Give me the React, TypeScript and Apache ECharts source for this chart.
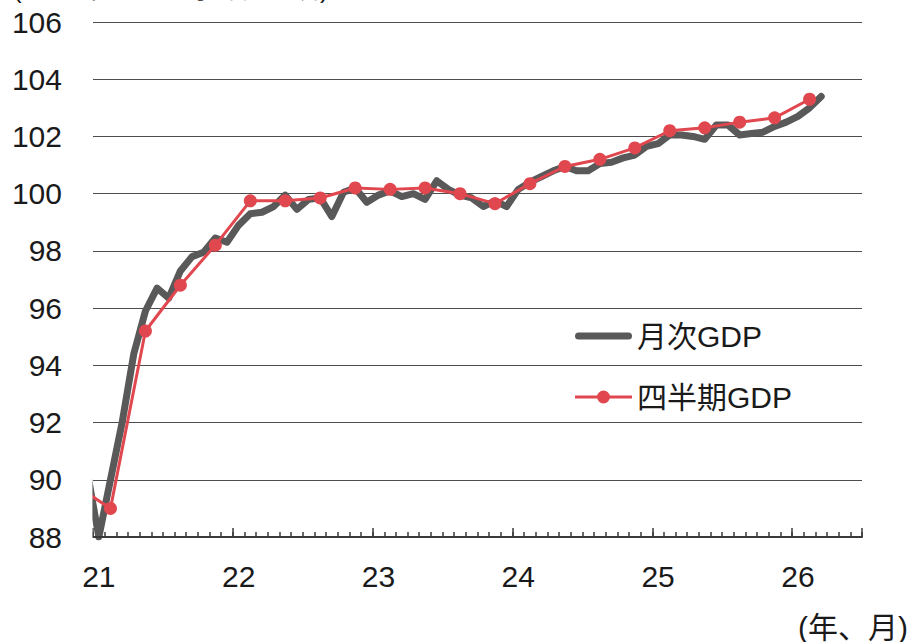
import React, { useEffect, useRef } from "react";
import * as echarts from "echarts";

// ---- data ----
const START_YEAR = 2021;
const AXIS_MONTHS = 66; // Jan 2021 .. Jun 2026
const yearTickLabels = ["21", "22", "23", "24", "25", "26"];
const yAxisMin = 88;
const yAxisMax = 106;
const yAxisStep = 2;

// Monthly GDP, Dec 2020 .. Mar 2026 (offset -1 = Dec 2020)
const monthlyOffset = -1;
const monthlyGDP = [
  90.3,
  88.0, 90.0, 92.0, 94.4, 95.9, 96.7, 96.35, 97.3, 97.8, 97.95, 98.45, 98.3,
  98.9, 99.3, 99.35, 99.55, 99.95, 99.45, 99.8, 99.85, 99.2, 100.05, 100.2, 99.7,
  99.95, 100.1, 99.9, 100.0, 99.8, 100.45, 100.15, 99.95, 99.85, 99.55, 99.75, 99.55,
  100.15, 100.4, 100.6, 100.8, 100.95, 100.8, 100.8, 101.05, 101.1, 101.25, 101.35, 101.65,
  101.75, 102.05, 102.05, 102.0, 101.9, 102.4, 102.4, 102.05, 102.1, 102.15, 102.35, 102.5,
  102.7, 103.0, 103.4,
];

// Quarterly GDP, Q4 2020 .. Q1 2026, plotted at the middle month (offset -2 = Nov 2020)
const quarterlyOffset = -2;
const quarterlyGDP = [
  89.8,
  89.0, 95.2, 96.8, 98.2,
  99.75, 99.75, 99.85, 100.2,
  100.15, 100.2, 100.0, 99.65,
  100.35, 100.95, 101.2, 101.6,
  102.2, 102.3, 102.5, 102.65,
  103.3,
];

const seriesNames = ["月次GDP", "四半期GDP"];
const titleText = "(2023年=100、季節調整済)";
const unitText = "(年、月)";

const GRAY = "#595959";
const RED = "#e0474e";
const TEXT = "#1a1a1a";
const GRID = "#4d4d4d";
const FONT = "'Liberation Sans', Arial, 'Noto Sans CJK JP', sans-serif";

const GRAY_ICON =
  "path://M3.5,0 L53.5,0 A3.5,3.5 0 0 1 53.5,7 L3.5,7 A3.5,3.5 0 0 1 3.5,0 Z";
const RED_ICON =
  "path://M0,5 L57,5 L57,8 L0,8 Z M28.5,0 A6.5,6.5 0 1 1 28.5,13 A6.5,6.5 0 1 1 28.5,0 Z";

const monthCategories: string[] = [];
for (let i = 0; i < AXIS_MONTHS; i++) {
  const y = START_YEAR + Math.floor(i / 12);
  const m = (i % 12) + 1;
  monthCategories.push(`${y}-${String(m).padStart(2, "0")}`);
}

export default function App() {
  const ref = useRef<HTMLDivElement>(null);
  useEffect(() => {
    if (!ref.current) return;
    const chart = echarts.init(ref.current, null, { renderer: "svg" });
    const monthlyData = monthlyGDP.map((v, i) => [monthlyOffset + i + 0.5, v]);
    const quarterlyData = quarterlyGDP.map((v, i) => [quarterlyOffset + i * 3 + 0.5, v]);
    chart.setOption({
      animation: false,
      backgroundColor: "#ffffff",
      grid: { left: 93, right: 52, top: 22, bottom: 105, containLabel: false, outerBoundsMode: "none" },
      xAxis: [
        { type: "value", min: 0, max: AXIS_MONTHS, show: false },
        {
          type: "category",
          position: "bottom",
          data: monthCategories,
          boundaryGap: true,
          axisLine: { show: true, lineStyle: { color: "#3a3a3a", width: 2 } },
          axisTick: { show: true, inside: true, length: 5, interval: 0, lineStyle: { color: "#3a3a3a", width: 1.5 } },
          axisLabel: {
            interval: (i: number) => i % 12 === 0,
            formatter: (v: string) => yearTickLabels[Number(v.slice(0, 4)) - START_YEAR] ?? "",
            fontSize: 30,
            color: TEXT,
            fontFamily: FONT,
            margin: 24,
          },
          splitLine: { show: false },
          z: 5,
        },
        {
          type: "category",
          position: "bottom",
          data: monthCategories,
          boundaryGap: true,
          axisLine: { show: false },
          axisTick: { show: true, inside: true, length: 9, interval: (i: number) => i % 12 === 0, lineStyle: { color: "#3a3a3a", width: 1.5 } },
          axisLabel: { show: false },
          splitLine: { show: false },
          z: 5,
        },
      ],
      yAxis: {
        type: "value",
        min: yAxisMin,
        max: yAxisMax,
        interval: yAxisStep,
        axisLine: { show: false },
        axisTick: { show: false },
        axisLabel: { fontSize: 30, color: TEXT, fontFamily: FONT, margin: 31 },
        splitLine: { show: true, lineStyle: { color: GRID, width: 1 } },
      },
      legend: {
        data: [
          { name: seriesNames[0], icon: GRAY_ICON, itemStyle: { color: GRAY } },
          { name: seriesNames[1], icon: RED_ICON, itemStyle: { color: RED } },
        ],
        orient: "vertical",
        left: 575,
        top: 321,
        itemWidth: 57,
        itemHeight: 14,
        itemGap: 31,
        itemTextGap: 5,
        symbolKeepAspect: true,
        padding: 0,
        textStyle: { fontSize: 30, color: TEXT, fontFamily: FONT },
      },
      series: [
        {
          name: seriesNames[0],
          type: "line",
          xAxisIndex: 0,
          data: monthlyData,
          symbol: "none",
          showSymbol: false,
          clip: true,
          lineStyle: { color: GRAY, width: 7, cap: "round", join: "round" },
          itemStyle: { color: GRAY },
          z: 2,
        },
        {
          name: seriesNames[1],
          type: "line",
          xAxisIndex: 0,
          data: quarterlyData,
          symbol: "circle",
          symbolSize: 13,
          showSymbol: true,
          clip: true,
          lineStyle: { color: RED, width: 3 },
          itemStyle: { color: RED },
          z: 3,
        },
      ],
      graphic: [
        {
          type: "rect",
          shape: { x: 66, y: 15, width: 26.4, height: 540 },
          style: { fill: "#ffffff" },
          z: 100,
        },
        {
          type: "text",
          left: 13,
          top: -24,
          style: { text: titleText, fontSize: 26, fill: TEXT, fontFamily: FONT },
        },
        {
          type: "text",
          right: 6,
          top: 612,
          style: { text: unitText, fontSize: 30, fill: TEXT, fontFamily: FONT },
        },
      ],
    });
    return () => chart.dispose();
  }, []);
  return (
    <div
      ref={ref}
      style={{ position: "fixed", left: 0, top: 0, width: 914, height: 642, background: "#fff" }}
    />
  );
}
